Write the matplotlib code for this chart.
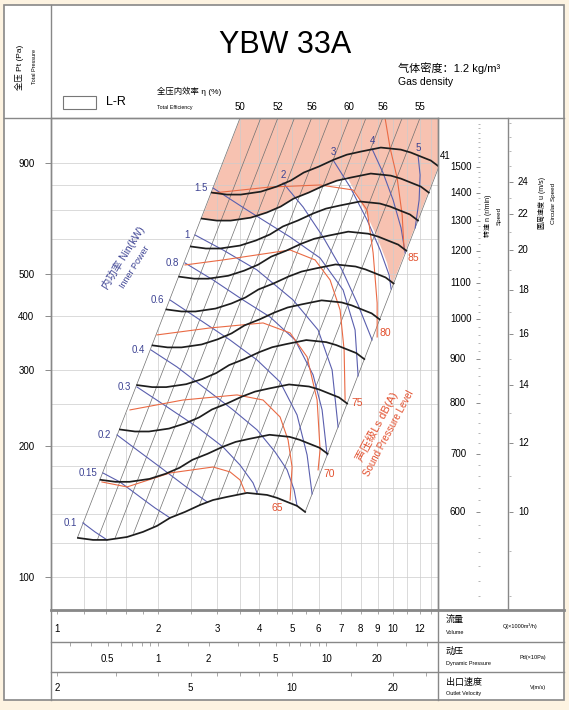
import numpy as np
import matplotlib
matplotlib.use("Agg")
import matplotlib.pyplot as plt
import matplotlib.transforms as mtransforms
from matplotlib.lines import Line2D
from matplotlib.patches import Rectangle, Polygon
from matplotlib.ticker import FixedLocator, NullLocator, NullFormatter

plt.rcParams["font.family"] = ["Liberation Sans", "Noto Sans CJK SC", "DejaVu Sans"]

# ---------------- data ----------------
# fan curve at 600 r/min  (Q in 1000 m3/h, total pressure in Pa)
base_speed = 600
base_q = np.array([1.155, 1.280, 1.409, 1.616, 1.803, 1.984, 2.169, 2.404, 2.665,
                   2.913, 3.206, 3.677, 4.217, 4.517, 4.837, 5.179, 5.473])
base_p = np.array([123.0, 121.7, 121.7, 123.6, 127.0, 131.1, 136.8, 141.2, 146.5,
                   150.4, 152.9, 156.2, 154.5, 152.1, 148.9, 145.8, 141.2])
speeds = [600, 700, 800, 900, 1000, 1100, 1200, 1300, 1400, 1500]

# operating lines (P ~ Q^2), anchored on the 600 r/min curve, with efficiency (%)
diag_q = np.array([1.15, 1.32, 1.49, 1.69, 1.93, 2.26, 2.65, 3.02, 3.43, 3.92, 4.40, 5.47])
diag_p = np.array([123, 122, 123, 126, 130, 139, 146, 151, 155, 155, 153, 141])
diag_eff = ["50", "", "52", "", "56", "", "60", "", "56", "", "55", "41"]

# inner power lines (kW)
power_labels = ["0.1", "0.15", "0.2", "0.3", "0.4", "0.6", "0.8", "1", "1.5", "2", "3", "4", "5"]
power_q = [
    [1.195, 1.297, 1.409],
    [1.370, 1.540, 1.766, 1.957, 2.169],
    [1.509, 1.730, 2.025, 2.404, 2.796],
    [1.730, 2.126, 2.610, 3.119, 3.504, 3.831, 3.938],
    [1.905, 2.276, 2.796, 3.341, 3.938, 4.455, 4.837, 5.075, 5.179],
    [2.169, 2.665, 3.272, 3.938, 4.610, 5.179, 5.548, 5.741],
    [2.404, 2.913, 3.577, 4.305, 5.109, 5.781, 6.148, 6.362],
    [2.575, 3.119, 3.938, 5.040, 5.982, 6.585, 6.860],
    [2.913, 3.677, 4.938, 6.064, 7.100, 7.707, 7.868],
    [4.706, 5.398, 6.190, 7.051, 7.868, 8.426, 8.660],
    [6.629, 7.448, 8.369, 9.149, 9.730, 9.863],
    [8.660, 9.338, 10.00, 10.56, 10.86],
    [11.87, 12.03, 11.95, 11.63],
]
power_p = [
    [133.2, 127.0, 121.7],
    [173.6, 165.5, 152.9, 144.2, 136.8],
    [212.4, 196.2, 179.2, 162.0, 148.9],
    [274.0, 246.5, 221.6, 199.3, 181.1, 164.7, 156.2],
    [333.4, 304.7, 269.7, 242.6, 218.2, 194.1, 176.5, 158.7, 145.8],
    [434.8, 391.0, 351.6, 316.2, 281.4, 236.2, 191.0, 155.3],
    [529.2, 483.5, 434.8, 397.2, 351.6, 292.1, 242.6, 191.0],
    [613.8, 566.9, 509.7, 434.8, 370.8, 299.9, 221.6],
    [787.6, 700.7, 607.3, 543.3, 458.4, 370.8, 290.5],
    [808.9, 712.0, 607.3, 509.7, 423.4, 370.8, 351.6],
    [913.7, 791.8, 664.6, 566.9, 496.4, 460.9],
    [968.8, 852.9, 739.0, 637.2, 557.9],
    [933.3, 843.9, 739.0, 637.2],
]

# sound pressure level lines dB(A)
sound_labels = ["", "65", "70", "75", "80", "85"]
sound_q = [
    [1.361, 1.616, 2.169, 2.913, 3.272, 3.504, 3.627],
    [1.649, 2.371, 3.433, 4.103, 4.610, 4.870, 5.005, 4.938],
    [1.984, 2.854, 4.103, 4.938, 5.548, 5.941, 6.064, 5.982],
    [2.404, 3.119, 4.938, 5.860, 6.494, 6.955, 7.149, 7.197],
    [2.913, 4.305, 6.064, 7.603, 8.369, 8.721, 8.964, 8.964],
    [9.467, 9.795, 10.28, 10.64, 10.78],
]
sound_p = [
    [165.5, 161.2, 173.6, 179.2, 174.6, 167.3, 157.0],
    [242.6, 255.7, 262.7, 255.7, 233.7, 206.9, 179.2, 150.4],
    [361.2, 374.8, 384.9, 365.0, 321.3, 255.7, 196.2, 176.5],
    [523.6, 537.7, 566.9, 537.7, 483.5, 412.3, 333.4, 255.7],
    [767.0, 791.8, 800.3, 779.4, 700.7, 557.9, 428.0, 357.3],
    [1140.0, 973.9, 830.7, 682.4, 566.9],
]

# edge of the shaded zone between the 1400 r/min curve and the right limit
shade_speed = 1400
shade_q = [7.30, 8.14, 8.96, 9.60, 9.93]
shade_p = [835, 712, 607, 529, 470]

p_ticks = [100, 200, 300, 400, 500, 900]
grid_p = [100, 120, 140, 160, 180, 200, 250, 300, 400, 500, 600, 700, 800, 900]
grid_q = [1.2, 1.4, 1.6, 2, 2.5, 3, 3.5, 4, 4.5, 5, 6, 7, 8, 9, 10, 11, 12, 13]
speed_ticks = [600, 700, 800, 900, 1000, 1100, 1200, 1300, 1400, 1500]
circ_ticks = [10, 12, 14, 16, 18, 20, 22, 24]
vol_ticks = [1, 2, 3, 4, 5, 6, 7, 8, 9, 10, 12]
vol_minor = [1.2, 1.4, 1.6, 1.8, 2.5, 3.5, 4.5, 5.5, 11, 13]
pd_ticks = [0.5, 1, 2, 5, 10, 20]
pd_minor = [0.3, 0.4, 0.6, 0.7, 0.8, 0.9, 1.5, 3, 4, 6, 7, 8, 9, 15, 30, 40]
vel_ticks = [2, 5, 10, 20]
vel_minor = [3, 4, 6, 7, 8, 9, 15, 25]

q_lim = (0.96, 13.6)
p_lim = (83.9, 1142)

# ---------------- layout ----------------
W, H = 569, 710
fig = plt.figure(figsize=(W / 100, H / 100), dpi=100)
fig.patch.set_facecolor("#fdf3e1")

def fbox(x0, y0, x1, y1):
    return [x0 / W, 1 - y1 / H, (x1 - x0) / W, (y1 - y0) / H]

def fxy(x, y):
    return x / W, 1 - y / H

def fline(x0, y0, x1, y1, lw=1.0):
    (a, b), (c, d) = fxy(x0, y0), fxy(x1, y1)
    fig.add_artist(Line2D([a, c], [b, d], transform=fig.transFigure,
                          color="#888888", lw=lw, zorder=5))

frame = Rectangle(fxy(4, 700), 560 / W, 695 / H, transform=fig.transFigure,
                  facecolor="white", edgecolor="#888888", lw=1.2, zorder=-10)
fig.add_artist(frame)

BLUE = "#3d4393"
BLUE_LINE = "#5a5fae"
RED = "#e2502e"
RED_LINE = "#ea6a44"
PINK = "#f7c2b1"

# ---------------- main chart ----------------
ax = fig.add_axes(fbox(51, 118, 438, 610))
ax.set_xscale("log")
ax.set_yscale("log")
ax.set_xlim(q_lim)
ax.set_ylim(p_lim)
ax.xaxis.set_major_locator(NullLocator())
ax.xaxis.set_minor_locator(NullLocator())
ax.yaxis.set_major_locator(FixedLocator(p_ticks))
ax.yaxis.set_minor_locator(NullLocator())
ax.set_yticklabels([str(v) for v in p_ticks])
ax.tick_params(axis="y", direction="out", length=4, width=0.6, color="#777777",
               labelsize=7, pad=8)
for s in ax.spines.values():
    s.set_color("#8a8a8a")
    s.set_linewidth(1.0)

# shaded zone
k = shade_speed / base_speed
sel = base_q * k < shade_q[0]
shade = list(zip(base_q[sel] * k, base_p[sel] * k ** 2)) + list(zip(shade_q, shade_p))
shade += [(diag_q[-1] * 4, diag_p[-1] * 16), (diag_q[0] * 4, diag_p[0] * 16)]
ax.add_patch(Polygon(shade, closed=True, facecolor=PINK, edgecolor="none", zorder=0.5))

# grid
for p in grid_p:
    ax.axhline(p, color="#cccccc", lw=0.5, zorder=1)
for g in grid_q:
    top = diag_p[0] * (g / diag_q[0]) ** 2
    ax.plot([g, g], [p_lim[0], min(top, p_lim[1])], color="#cccccc", lw=0.5, zorder=1)

# operating lines and efficiency labels
for q, p, lab in zip(diag_q, diag_p, diag_eff):
    ax.plot([q, q * 4], [p, p * 16], color="#707070", lw=0.5, zorder=2)
    if not lab:
        continue
    q_top = q * np.sqrt(p_lim[1] / p)
    if q_top <= q_lim[1]:
        ax.annotate(lab, (q_top, p_lim[1]), xytext=(0, 8), textcoords="offset points",
                    ha="center", va="center", fontsize=7, annotation_clip=False)
    else:
        p_edge = p * (q_lim[1] / q) ** 2
        ax.annotate(lab, (q_lim[1], p_edge), xytext=(5, 9), textcoords="offset points",
                    ha="center", va="center", fontsize=7, annotation_clip=False)

# power lines
for i, (lab, qs, ps) in enumerate(zip(power_labels, power_q, power_p)):
    ax.plot(qs, ps, color=BLUE_LINE, lw=0.8, zorder=3)
    if i < 9:
        ax.annotate(lab, (qs[0], ps[0]), xytext=(-4, 0), textcoords="offset points",
                    ha="right", va="center", fontsize=7, color=BLUE, annotation_clip=False)
    else:
        ax.annotate(lab, (qs[0], ps[0]), xytext=(0, 2), textcoords="offset points",
                    ha="center", va="bottom", fontsize=7, color=BLUE, zorder=6)

# sound level lines
sound_offsets = {"65": (-9, -6), "70": (8, -3), "75": (9, -2), "80": (6, 3), "85": (7, -6)}
for lab, qs, ps in zip(sound_labels, sound_q, sound_p):
    ax.plot(qs, ps, color=RED_LINE, lw=0.8, zorder=3)
    if lab:
        ax.annotate(lab, (qs[-1], ps[-1]), xytext=sound_offsets[lab], textcoords="offset points",
                    ha="center", va="center", fontsize=7.5, color=RED, annotation_clip=False)

# fan curves at each speed
for n in speeds:
    r = n / base_speed
    ax.plot(base_q * r, base_p * r ** 2, color="#1e1e1e", lw=1.25, zorder=4)

fig.text(*fxy(123, 258), "内功率 Nin(kW)", rotation=58, ha="center", va="center",
         fontsize=7.5, color=BLUE)
fig.text(*fxy(135, 267), "Inner Power", rotation=58, ha="center", va="center",
         fontsize=6.5, color=BLUE)
fig.text(*fxy(377, 426), "声压级Ls dB(A)", rotation=62, ha="center", va="center",
         fontsize=8, color=RED)
fig.text(*fxy(389, 433), "Sound Pressure Level", rotation=62, ha="center", va="center",
         fontsize=7, color=RED)

# ---------------- speed scales on the right ----------------
n_lim = base_speed * np.sqrt(np.array(p_lim) / base_p[-1])
ax_n = fig.add_axes(fbox(480, 118, 481, 610))
ax_n.set_yscale("log")
ax_n.set_ylim(n_lim)
ax_n.set_xticks([])
ax_n.yaxis.set_major_locator(FixedLocator(speed_ticks))
ax_n.yaxis.set_minor_locator(FixedLocator(np.arange(480, 1700, 20)))
ax_n.yaxis.set_major_formatter(NullFormatter())
ax_n.yaxis.set_minor_formatter(NullFormatter())
ax_n.tick_params(axis="y", which="major", direction="out", length=3, width=0.6, color="#777777")
ax_n.tick_params(axis="y", which="minor", direction="out", length=1.5, width=0.5, color="#999999")
ax_n.patch.set_visible(False)
for s in ax_n.spines.values():
    s.set_visible(False)
tr_n = mtransforms.blended_transform_factory(fig.transFigure, ax_n.transData)
for v in speed_ticks:
    ax_n.text(450 / W, v, str(v), transform=tr_n, ha="left", va="center", fontsize=7)

u_lim = n_lim * np.pi * 0.318 / 60
ax_u = fig.add_axes(fbox(508, 118, 509, 610))
ax_u.set_yscale("log")
ax_u.set_ylim(u_lim)
ax_u.set_xticks([])
ax_u.yaxis.tick_right()
ax_u.yaxis.set_major_locator(FixedLocator(circ_ticks))
ax_u.yaxis.set_minor_locator(FixedLocator(np.arange(8, 29, 1)))
ax_u.yaxis.set_major_formatter(NullFormatter())
ax_u.yaxis.set_minor_formatter(NullFormatter())
ax_u.tick_params(axis="y", which="major", direction="out", length=3, width=0.6, color="#777777")
ax_u.tick_params(axis="y", which="minor", direction="out", length=1.5, width=0.5, color="#999999")
ax_u.patch.set_visible(False)
for s in ax_u.spines.values():
    s.set_visible(False)
tr_u = mtransforms.blended_transform_factory(fig.transFigure, ax_u.transData)
for v in circ_ticks:
    ax_u.text(518 / W, v, str(v), transform=tr_u, ha="left", va="center", fontsize=7)

fig.text(*fxy(488, 216), "转速 n (r/min)", rotation=90, ha="center", va="center", fontsize=5)
fig.text(*fxy(499, 216), "Speed", rotation=90, ha="center", va="center", fontsize=4.5)
fig.text(*fxy(542, 203), "圆周速度 u (m/s)", rotation=90, ha="center", va="center", fontsize=5)
fig.text(*fxy(553, 203), "Circular Speed", rotation=90, ha="center", va="center", fontsize=4.5)

# ---------------- bottom scales ----------------
def row_axes(y0, y1, lim, ticks, minor, labels):
    a = fig.add_axes(fbox(51, y0, 438, y1))
    a.set_xscale("log")
    a.set_xlim(lim)
    a.set_yticks([])
    a.xaxis.set_ticks_position("top")
    a.xaxis.set_major_locator(FixedLocator(ticks))
    a.xaxis.set_minor_locator(FixedLocator(minor))
    a.xaxis.set_major_formatter(NullFormatter())
    a.xaxis.set_minor_formatter(NullFormatter())
    a.tick_params(axis="x", which="both", direction="in", length=3, width=0.6, color="#999999")
    a.patch.set_visible(False)
    for s in a.spines.values():
        s.set_visible(False)
    tr = mtransforms.blended_transform_factory(a.transData, a.transAxes)
    for v, t in zip(ticks, labels):
        a.text(v, 0.42, t, transform=tr, ha="center", va="center", fontsize=7)
    return a

row_axes(610, 642, q_lim, vol_ticks, vol_minor, [str(v) for v in vol_ticks])
pd_lim = (q_lim[0] ** 2 / 4, q_lim[1] ** 2 / 4)
row_axes(642, 672, pd_lim, pd_ticks, pd_minor, [str(v) for v in pd_ticks])
vel_lim = (q_lim[0] * 2, q_lim[1] * 2)
row_axes(672, 700, vel_lim, vel_ticks, vel_minor, [str(v) for v in vel_ticks])

fig.text(*fxy(446, 620), "流量", fontsize=6.5, va="center")
fig.text(*fxy(446, 633), "Volume", fontsize=4, va="center")
fig.text(*fxy(503, 626), "Q(×1000m³/h)", fontsize=4, va="center")
fig.text(*fxy(446, 651), "动压", fontsize=6.5, va="center")
fig.text(*fxy(446, 664), "Dynamic Pressure", fontsize=4, va="center")
fig.text(*fxy(520, 657), "Pd(×10Pa)", fontsize=4, va="center")
fig.text(*fxy(446, 682), "出口速度", fontsize=6.5, va="center")
fig.text(*fxy(446, 694), "Outlet Velocity", fontsize=4, va="center")
fig.text(*fxy(530, 688), "V(m/s)", fontsize=4, va="center")

# ---------------- header ----------------
fig.text(*fxy(285, 45), "YBW 33A", fontsize=22, ha="center", va="center")
fig.text(*fxy(398, 68), "气体密度：1.2 kg/m³", fontsize=8, va="center")
fig.text(*fxy(398, 82), "Gas density", fontsize=7.5, va="center")
fig.add_artist(Rectangle(fxy(63, 109), 33 / W, 13 / H, transform=fig.transFigure,
                         facecolor="white", edgecolor="#777777", lw=0.8, zorder=5))
fig.text(*fxy(106, 102), "L-R", fontsize=9, va="center")
fig.text(*fxy(157, 91), "全压内效率 η (%)", fontsize=6, va="center")
fig.text(*fxy(157, 107), "Total Efficiency", fontsize=3.8, va="center")
fig.text(*fxy(19, 67), "全压 Pt (Pa)", rotation=90, ha="center", va="center", fontsize=6)
fig.text(*fxy(34, 67), "Total Pressure", rotation=90, ha="center", va="center", fontsize=4)

# frame lines
fline(51, 5, 51, 700)
fline(4, 118, 564, 118)
fline(438, 118, 438, 700)
fline(508, 118, 508, 610)
fline(51, 610, 564, 610, lw=2.0)
fline(51, 642, 564, 642)
fline(51, 672, 564, 672)

fig.savefig("out.png", dpi=100, facecolor=fig.get_facecolor())
